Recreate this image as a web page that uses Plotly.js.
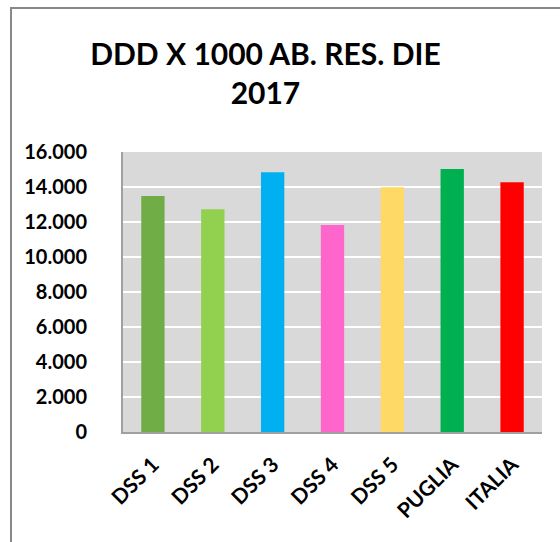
<!DOCTYPE html>
<html>
<head>
<meta charset="utf-8">
<script src="https://cdn.plot.ly/plotly-3.0.1.min.js"></script>
<style>
  html, body { margin: 0; padding: 0; background: #fff; }
  #wrap { position: relative; width: 560px; height: 542px; }
  #chart { width: 560px; height: 542px; }
  #frame { position: absolute; left: 10px; top: 7px; right: 0; bottom: 0;
           border-left: 2px solid #888; border-top: 2px solid #888; pointer-events: none; }
</style>
</head>
<body>
<div id="wrap">
  <div id="chart"></div>
  <div id="frame"></div>
</div>
<script>
const categories = ["DSS 1", "DSS 2", "DSS 3", "DSS 4", "DSS 5", "PUGLIA", "ITALIA"];
const values = [13490, 12730, 14840, 11830, 13980, 15030, 14270];
const barColors = ["#70AD47", "#92D050", "#00B0F0", "#FF66CC", "#FFD966", "#00B050", "#FF0000"];
const yTicks = [0, 2000, 4000, 6000, 8000, 10000, 12000, 14000, 16000];
const titleText = "DDD X 1000 AB. RES. DIE<br>2017";

const trace = {
  type: "bar",
  x: categories,
  y: values,
  marker: { color: barColors, line: { width: 0 } },
  hoverinfo: "x+y"
};

const layout = {
  width: 560,
  height: 542,
  separators: ",.",
  margin: { l: 123, r: 18, t: 152, b: 110 },
  paper_bgcolor: "#ffffff",
  plot_bgcolor: "#d9d9d9",
  bargap: 0.61,
  showlegend: false,
  font: { family: "Lato, 'Liberation Sans', sans-serif", color: "#000" },
  title: {
    text: titleText,
    x: 0.474, xanchor: "center",
    y: 0.88, yanchor: "top",
    font: { size: 30, family: "Lato, 'Liberation Sans', sans-serif", weight: "bold", color: "#000" }
  },
  xaxis: {
    type: "category",
    tickangle: -45,
    tickfont: { size: 21, weight: "bold", color: "#000" },
    ticklabelstandoff: 10,
    showline: true, linecolor: "#a0a0a0", linewidth: 2,
    ticks: "", showgrid: false, fixedrange: true
  },
  yaxis: {
    range: [0, 16000],
    tickvals: yTicks,
    tickformat: ",d",
    tickfont: { size: 20, weight: "bold", color: "#000" },
    ticklabelstandoff: 30,
    showline: true, linecolor: "#a0a0a0", linewidth: 2,
    gridcolor: "#ffffff", gridwidth: 2,
    zeroline: false, ticks: "", fixedrange: true
  }
};

Plotly.newPlot("chart", [trace], layout, { displayModeBar: false, staticPlot: true });
</script>
</body>
</html>
